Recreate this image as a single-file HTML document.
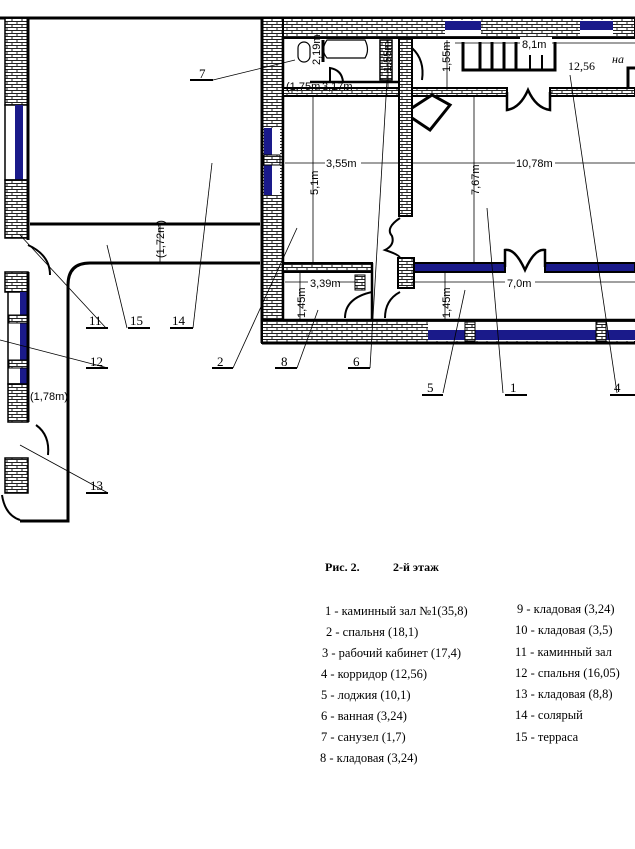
<!DOCTYPE html>
<html><head><meta charset="utf-8"><style>
html,body{margin:0;padding:0;background:#fff;}
svg{display:block;}
text{font-family:"Liberation Serif",serif;}
.s text{font-family:"Liberation Sans",sans-serif;font-size:11px;}
</style></head><body>
<svg width="635" height="849" viewBox="0 0 635 849" xmlns="http://www.w3.org/2000/svg">
<defs>
<pattern id="b" width="10" height="6" patternUnits="userSpaceOnUse">
<rect width="10" height="6" fill="#fff"/>
<path d="M0 0.5H10M0 3.5H10M2 0.5V3.5M7 3.5V6" stroke="#222" stroke-width="1" fill="none"/>
</pattern>
</defs>
<g stroke="#000" fill="none">
<line x1="0" y1="18" x2="635" y2="18" stroke-width="3"/>
<rect x="5" y="18" width="23" height="87" fill="url(#b)" stroke-width="1.5"/>
<rect x="5" y="105" width="23" height="75" fill="#fff" stroke-width="1.5"/>
<rect x="15" y="105" width="8" height="75" fill="#1a1a8a" stroke="none"/>
<rect x="5" y="180" width="23" height="58" fill="url(#b)" stroke-width="1.5"/>
<line x1="28" y1="18" x2="28" y2="240" stroke-width="3"/>
<path d="M28 245 Q50 255 50 275" stroke-width="2"/>
<rect x="5" y="272" width="23" height="20" fill="url(#b)" stroke-width="1.5"/>
<rect x="8" y="292" width="20" height="92" fill="#fff" stroke-width="1.5"/>
<rect x="20" y="292" width="8" height="92" fill="#1a1a8a" stroke="none"/>
<rect x="9" y="315" width="18" height="8" fill="url(#b)" stroke-width="1"/>
<rect x="9" y="360" width="18" height="8" fill="url(#b)" stroke-width="1"/>
<rect x="8" y="384" width="20" height="38" fill="url(#b)" stroke-width="1.5"/>
<line x1="28" y1="272" x2="28" y2="422" stroke-width="3"/>
<path d="M36 425 Q50 435 48 455" stroke-width="2"/>
<rect x="5" y="458" width="23" height="35" fill="url(#b)" stroke-width="1.5"/>
<path d="M2 495 Q5 515 20 520" stroke-width="2"/>
<line x1="30" y1="224" x2="260" y2="224" stroke-width="3"/>
<path d="M90 263 H260" stroke-width="3"/>
<path d="M90 263 Q68 263 68 285 V521 H20" stroke-width="3"/>
<rect x="262" y="18" width="373" height="20" fill="url(#b)" stroke-width="2"/>
<rect x="445" y="20" width="36" height="16" fill="#fff" stroke="none"/>
<rect x="445" y="21" width="36" height="9" fill="#1a1a8a" stroke="none"/>
<rect x="580" y="20" width="33" height="16" fill="#fff" stroke="none"/>
<rect x="580" y="21" width="33" height="9" fill="#1a1a8a" stroke="none"/>
<rect x="262" y="18" width="21" height="325" fill="url(#b)" stroke-width="2"/>
<rect x="264" y="128" width="16" height="67" fill="#fff" stroke="none"/>
<rect x="264" y="128" width="8" height="67" fill="#1a1a8a" stroke="none"/>
<rect x="264" y="155" width="16" height="10" fill="url(#b)" stroke-width="1"/>
<line x1="262" y1="18" x2="262" y2="343" stroke-width="3"/>
<rect x="262" y="320" width="373" height="23" fill="url(#b)" stroke-width="2"/>
<rect x="428" y="322" width="207" height="19" fill="#fff" stroke="none"/>
<rect x="428" y="330" width="207" height="10" fill="#1a1a8a" stroke="none"/>
<rect x="465" y="322" width="10" height="19" fill="url(#b)" stroke-width="1"/>
<rect x="596" y="322" width="10" height="19" fill="url(#b)" stroke-width="1"/>
<line x1="262" y1="343" x2="635" y2="343" stroke-width="3"/>
<line x1="283" y1="320" x2="635" y2="320" stroke-width="2.5"/>
<line x1="283" y1="38" x2="283" y2="320" stroke-width="2.5"/>
<rect x="283" y="88" width="224" height="8" fill="url(#b)" stroke-width="2"/>
<rect x="550" y="88" width="85" height="8" fill="url(#b)" stroke-width="2"/>
<path d="M507 92 V110 Q520 108 528 90 Q536 108 550 110 V92" stroke-width="2.5"/>
<path d="M412 108 L432 95 L450 105 L430 130 L412 118" stroke-width="3" fill="#fff"/>
<rect x="399" y="38" width="13" height="178" fill="url(#b)" stroke-width="2"/>
<path d="M400 218 Q385 228 392 236 Q395 245 385 250 Q400 255 400 258" stroke-width="2"/>
<rect x="398" y="258" width="16" height="30" fill="url(#b)" stroke-width="2"/>
<path d="M400 292 Q385 300 385 318" stroke-width="2"/>
<path d="M372 292 Q345 298 345 318" stroke-width="2"/>
<rect x="283" y="263" width="89" height="9" fill="url(#b)" stroke-width="2"/>
<rect x="414" y="263" width="91" height="9" fill="#1a1a8a" stroke="#000" stroke-width="2"/>
<rect x="545" y="263" width="90" height="9" fill="#1a1a8a" stroke="#000" stroke-width="2"/>
<path d="M505 267 V250 Q515 248 525 270 Q535 248 545 250 V267" stroke-width="2.5"/>
<line x1="372" y1="263" x2="372" y2="320" stroke-width="2.5"/>
<rect x="355" y="275" width="10" height="15" fill="url(#b)" stroke-width="1"/>
<rect x="298" y="42" width="12" height="20" rx="6" stroke-width="1.2"/>
<path d="M327 40 H365 Q370 50 365 58 H327 Q320 50 327 40Z" stroke-width="1.2"/>
<line x1="323" y1="40" x2="323" y2="62" stroke-width="3"/>
<line x1="310" y1="82" x2="400" y2="82" stroke-width="2.5"/>
<path d="M330 82 V68 Q342 70 343 82" stroke-width="2"/>
<rect x="380" y="40" width="12" height="40" fill="url(#b)" stroke-width="1.5"/>
<path d="M412 48 Q425 60 422 80" stroke-width="2"/>
<path d="M463 42 V70 H555 V42" stroke-width="3"/>
<line x1="480" y1="42" x2="480" y2="70" stroke-width="3"/>
<line x1="492" y1="42" x2="492" y2="70" stroke-width="3"/>
<line x1="504" y1="42" x2="504" y2="70" stroke-width="3"/>
<line x1="516" y1="42" x2="516" y2="70" stroke-width="3"/>
<line x1="530" y1="55" x2="530" y2="70" stroke-width="2"/>
<line x1="542" y1="55" x2="542" y2="70" stroke-width="2"/>
<path d="M628 88 V68 H635" stroke-width="3"/>
</g>
<g stroke="#000" stroke-width="0.8">
<line x1="285" y1="163" x2="400" y2="163"/>
<line x1="412" y1="163" x2="635" y2="163"/>
<line x1="313" y1="97" x2="313" y2="263"/>
<line x1="474" y1="97" x2="474" y2="263"/>
<line x1="412" y1="282" x2="635" y2="282"/>
<line x1="285" y1="282" x2="355" y2="282"/>
<line x1="300" y1="273" x2="300" y2="320"/>
<line x1="445" y1="273" x2="445" y2="320"/>
<line x1="455" y1="43" x2="635" y2="43"/>
<line x1="160" y1="224" x2="160" y2="263"/>
<line x1="447" y1="40" x2="447" y2="88"/>
<line x1="388" y1="40" x2="388" y2="88"/>
</g>
<g class="s" fill="#000">
<rect x="325" y="156" width="36" height="12" fill="#fff"/><text x="326" y="167">3,55m</text>
<rect x="515" y="156" width="40" height="12" fill="#fff"/><text x="516" y="167">10,78m</text>
<rect x="505" y="276" width="30" height="12" fill="#fff"/><text x="507" y="287">7,0m</text>
<rect x="308" y="276" width="30" height="12" fill="#fff"/><text x="310" y="287">3,39m</text>
<rect x="520" y="37" width="32" height="12" fill="#fff"/><text x="522" y="48">8,1m</text>
<text x="322" y="90" font-size="10">3,17m</text>
<text x="286" y="90" font-size="10">(1,75m</text>
<text x="30" y="400" font-size="10">(1,78m)</text>
<text transform="translate(318,195) rotate(-90)">5,1m</text>
<text transform="translate(479,195) rotate(-90)">7,67m</text>
<text transform="translate(305,318) rotate(-90)">1,45m</text>
<text transform="translate(450,318) rotate(-90)">1,45m</text>
<text transform="translate(320,65) rotate(-90)" font-size="10">2,19m</text>
<text transform="translate(391,72) rotate(-90)" font-size="10">1,55m</text>
<text transform="translate(450,72) rotate(-90)" font-size="10">1,55m</text>
<text transform="translate(164,258) rotate(-90)" font-size="10">(1,72m)</text>
</g>
<text x="568" y="70" font-size="12">12,56</text>
<text x="612" y="63" font-size="12" font-style="italic">на</text>
<g stroke="#000" stroke-width="0.8">
<line x1="213" y1="80" x2="295" y2="60"/>
<line x1="106" y1="328" x2="20" y2="235"/>
<line x1="127" y1="328" x2="107" y2="245"/>
<line x1="193" y1="328" x2="212" y2="163"/>
<line x1="108" y1="368" x2="0" y2="340"/>
<line x1="233" y1="368" x2="297" y2="228"/>
<line x1="297" y1="368" x2="318" y2="310"/>
<line x1="370" y1="368" x2="387" y2="80"/>
<line x1="443" y1="393" x2="465" y2="290"/>
<line x1="503" y1="393" x2="487" y2="208"/>
<line x1="617" y1="393" x2="570" y2="75"/>
<line x1="108" y1="493" x2="20" y2="445"/>
</g>
<g stroke="#000" stroke-width="2">
<line x1="190" y1="80" x2="213" y2="80"/>
<line x1="86" y1="328" x2="108" y2="328"/>
<line x1="128" y1="328" x2="150" y2="328"/>
<line x1="170" y1="328" x2="193" y2="328"/>
<line x1="86" y1="368" x2="108" y2="368"/>
<line x1="212" y1="368" x2="233" y2="368"/>
<line x1="275" y1="368" x2="297" y2="368"/>
<line x1="348" y1="368" x2="370" y2="368"/>
<line x1="422" y1="395" x2="443" y2="395"/>
<line x1="505" y1="395" x2="527" y2="395"/>
<line x1="610" y1="395" x2="635" y2="395"/>
<line x1="86" y1="493" x2="108" y2="493"/>
</g>
<g font-size="13" fill="#000">
<text x="199" y="78">7</text>
<text x="89" y="325">11</text>
<text x="130" y="325">15</text>
<text x="172" y="325">14</text>
<text x="90" y="366">12</text>
<text x="217" y="366">2</text>
<text x="281" y="366">8</text>
<text x="353" y="366">6</text>
<text x="427" y="392">5</text>
<text x="510" y="392">1</text>
<text x="614" y="392">4</text>
<text x="90" y="490">13</text>
</g>
<g font-size="12.5" fill="#000">
<text x="325" y="571" font-weight="bold" font-size="12">Рис. 2.</text>
<text x="393" y="571" font-weight="bold" font-size="12">2-й этаж</text>
<text x="325" y="615">1 - каминный зал №1(35,8)</text>
<text x="326" y="636">2 - спальня (18,1)</text>
<text x="322" y="657">3 - рабочий кабинет (17,4)</text>
<text x="321" y="678">4 - корридор (12,56)</text>
<text x="321" y="699">5 - лоджия (10,1)</text>
<text x="321" y="720">6 - ванная (3,24)</text>
<text x="321" y="741">7 - санузел (1,7)</text>
<text x="320" y="762">8 - кладовая (3,24)</text>
<text x="517" y="613">9 - кладовая (3,24)</text>
<text x="515" y="634">10 - кладовая (3,5)</text>
<text x="515" y="656">11 - каминный зал</text>
<text x="515" y="677">12 - спальня (16,05)</text>
<text x="515" y="698">13 - кладовая (8,8)</text>
<text x="515" y="719">14 - солярый</text>
<text x="515" y="741">15 - терраса</text>
</g>
</svg>
</body></html>
